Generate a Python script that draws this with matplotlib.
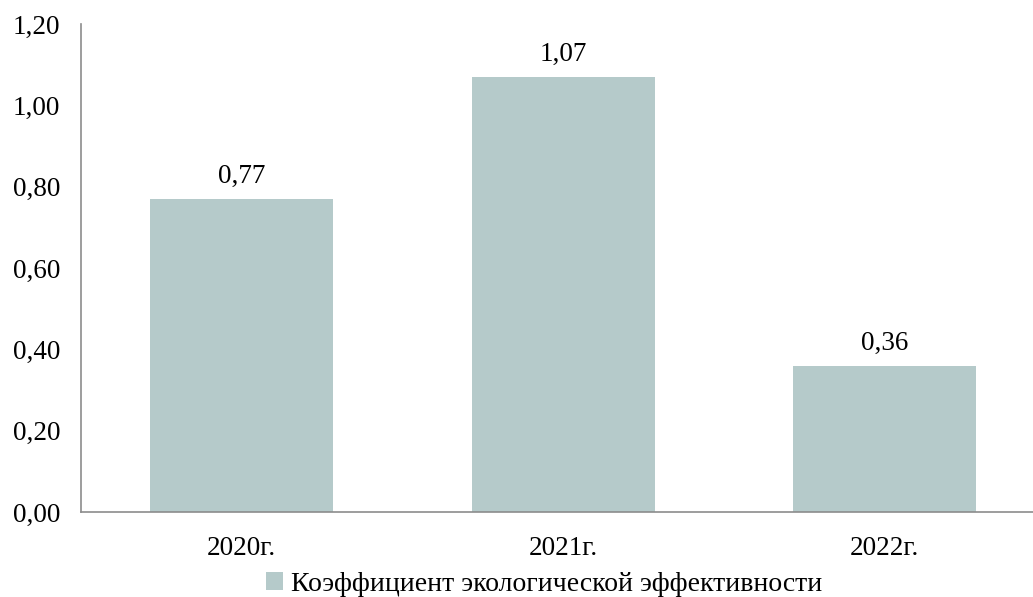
import matplotlib
matplotlib.use("Agg")
import matplotlib.pyplot as plt
from matplotlib.patches import Patch

years = ['2020г.', '2021г.', '2022г.']
values = [0.77, 1.07, 0.36]
labels = ['0,77', '1,07', '0,36']
series_name = 'Коэффициент экологической эффективности'
BAR_COLOR = '#b5caca'
SPINE_COLOR = '#8c8c8c'

plt.rcParams['font.family'] = ['Liberation Serif', 'DejaVu Serif']

fig = plt.figure(figsize=(10.33, 5.97), dpi=100)
ax = fig.add_axes([0.0784, 0.1424, 0.9216, 0.8174])

x = range(len(years))
bars = ax.bar(x, values, width=0.57, color=BAR_COLOR)
for b, lab in zip(bars, labels):
    ax.text(b.get_x() + b.get_width() / 2, b.get_height() + 0.025, lab,
            ha='center', va='bottom', fontsize=19.5)

ax.set_xlim(-0.5, 2.461)
ax.set_ylim(0, 1.2)
ax.set_yticks([0, 0.2, 0.4, 0.6, 0.8, 1.0, 1.2])
ax.set_yticklabels(['0,00', '0,20', '0,40', '0,60', '0,80', '1,00', '1,20'], fontsize=19.5)
ax.set_xticks(list(x))
ax.set_xticklabels(years, fontsize=19.5)
ax.tick_params(axis='x', length=0, pad=17)
ax.tick_params(axis='y', length=0, pad=15)

for s in ['top', 'right']:
    ax.spines[s].set_visible(False)
for s in ['left', 'bottom']:
    ax.spines[s].set_color(SPINE_COLOR)
    ax.spines[s].set_linewidth(1.2)

handle = Patch(facecolor=BAR_COLOR, edgecolor='none')
fig.legend([handle], [series_name], loc='center', bbox_to_anchor=(0.527, 0.021),
           frameon=False, fontsize=20, handlelength=0.6, handleheight=0.6,
           handletextpad=0.3, borderpad=0)

fig.savefig('out.png', dpi=100)
